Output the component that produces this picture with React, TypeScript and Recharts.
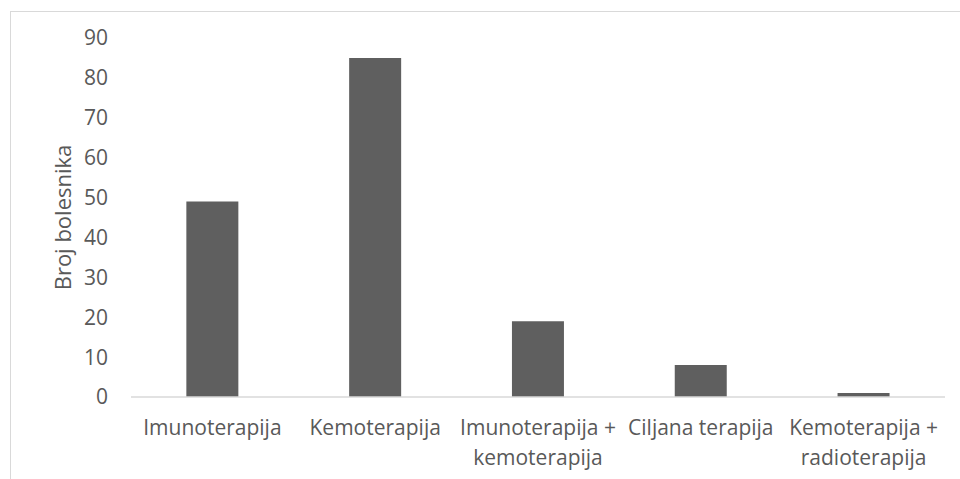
import { BarChart, Bar, XAxis, YAxis, Text } from 'recharts';

const categories = [
  'Imunoterapija',
  'Kemoterapija',
  'Imunoterapija + kemoterapija',
  'Ciljana terapija',
  'Kemoterapija + radioterapija',
];
const patients = [49, 85, 19, 8, 1];
const yTicks = [0, 10, 20, 30, 40, 50, 60, 70, 80, 90];

const data = categories.map((name, i) => ({ name, value: patients[i] }));

const FONT = '"Open Sans", sans-serif';
const TEXT = '#595959';

function CategoryTick(props: any) {
  const { x, y, payload } = props;
  return (
    <Text
      x={x}
      y={y + 15}
      width={165}
      textAnchor="middle"
      verticalAnchor="start"
      lineHeight={30}
      fill={TEXT}
      fontSize={21}
      fontFamily={FONT}
    >
      {payload.value}
    </Text>
  );
}

export default function App() {
  return (
    <div style={{ position: 'absolute', left: 0, top: 0, width: 960, height: 479, background: '#fff', overflow: 'hidden' }}>
      <div
        style={{
          position: 'absolute',
          left: 10,
          top: 11,
          width: 960,
          height: 479,
          borderLeft: '1px solid #d9d9d9',
          borderTop: '1px solid #d9d9d9',
        }}
      />
      <BarChart
        width={960}
        height={479}
        data={data}
        margin={{ top: 38, right: 15, left: 0, bottom: 22 }}
        barCategoryGap="34%"
        style={{ position: 'absolute', left: 0, top: 0 }}
      >
        <XAxis
          dataKey="name"
          interval={0}
          tickLine={false}
          axisLine={{ stroke: '#d9d9d9', strokeWidth: 1.5 }}
          height={60}
          tick={<CategoryTick />}
        />
        <YAxis
          width={131}
          domain={[0, 90]}
          ticks={yTicks}
          axisLine={false}
          tickLine={false}
          tickSize={0}
          tickMargin={23}
          tick={{ fill: TEXT, fontSize: 21, fontFamily: FONT }}
          label={({ viewBox }: any) => (
            <text
              x={62}
              y={viewBox.y + viewBox.height / 2}
              transform={`rotate(-90, 62, ${viewBox.y + viewBox.height / 2})`}
              textAnchor="middle"
              dominantBaseline="central"
              fill={TEXT}
              fontSize={22}
              fontFamily={FONT}
            >
              Broj bolesnika
            </text>
          )}
        />
        <Bar dataKey="value" fill="#5f5f5f" isAnimationActive={false} />
      </BarChart>
    </div>
  );
}
